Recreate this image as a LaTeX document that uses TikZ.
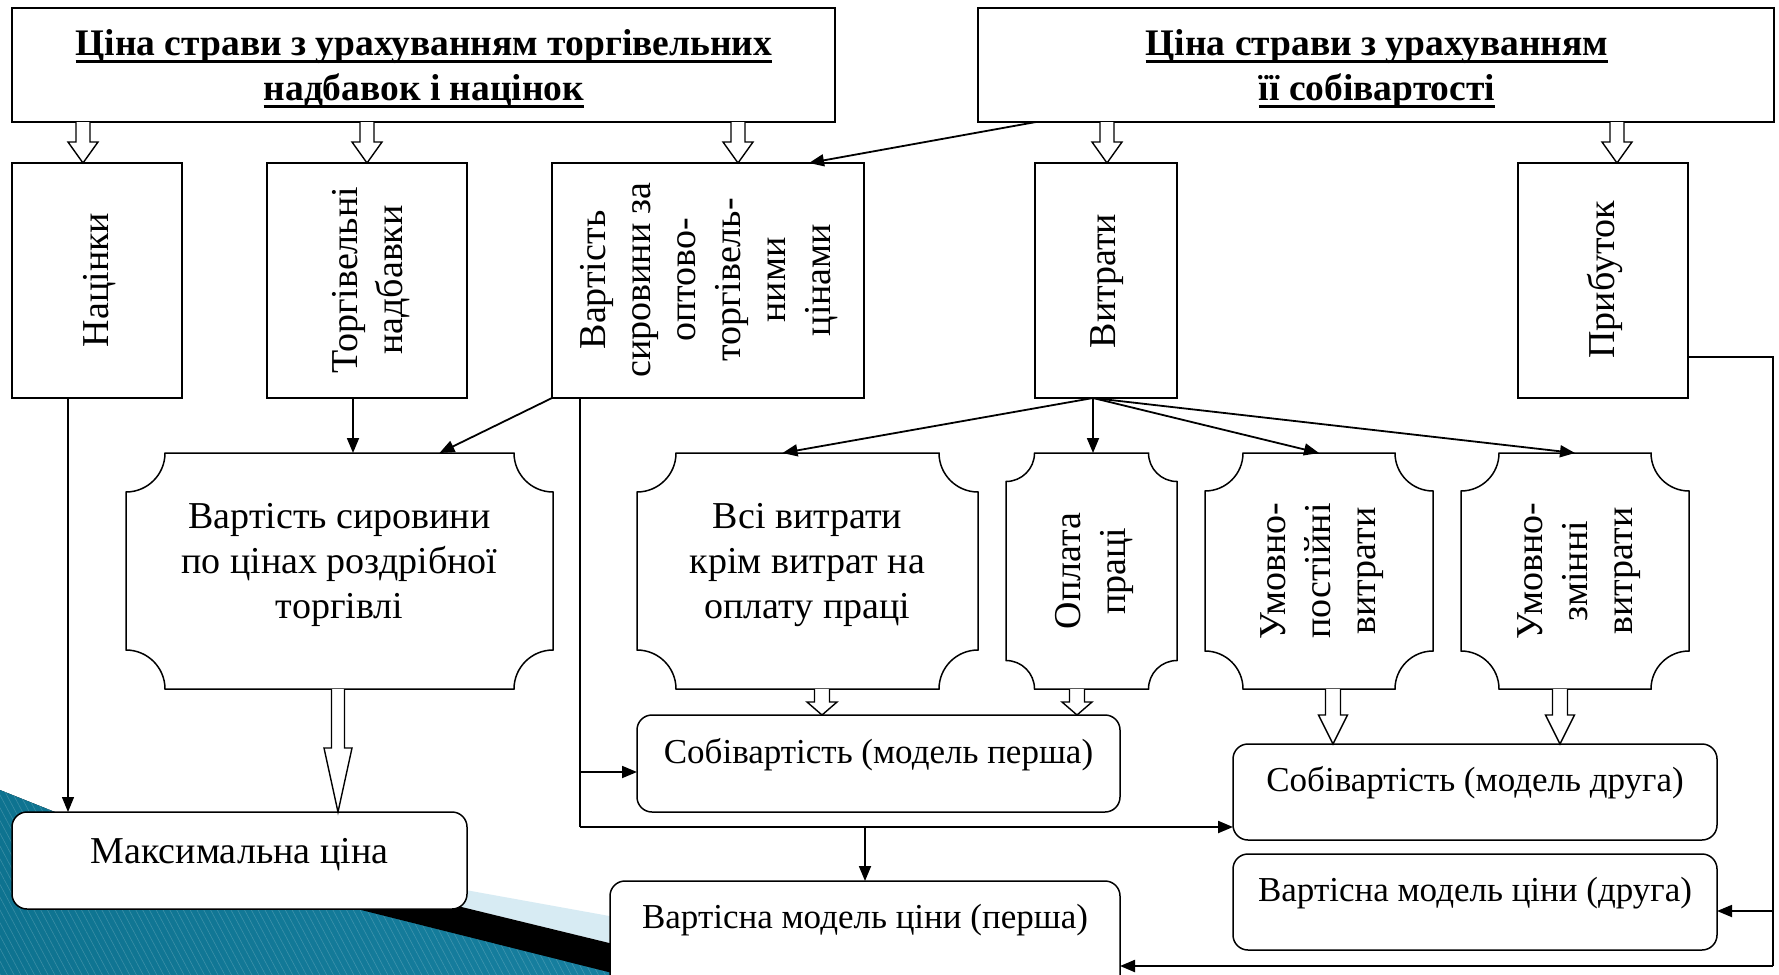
\documentclass[tikz,border=0pt]{standalone}
\usepackage{fontspec}
\setmainfont{Liberation Serif}
\usetikzlibrary{arrows.meta,patterns.meta}
\newcommand\ulin[1]{\setbox0\hbox{#1}\rlap{\vrule width\wd0 height -4.5pt depth 7.3pt}\box0}
\definecolor{tealdark}{HTML}{0E7390}
\definecolor{teallight}{HTML}{5CC1E1}
\definecolor{tealmid}{HTML}{1C86A8}
\definecolor{bandblue}{HTML}{D7EBF3}
\newcommand\bx[6]{\node[#6, minimum width={(#4-#2)*1pt}, minimum height={(#5-#3)*1pt}, anchor=north west] (#1) at (#2,#3) {};}
\newcommand\plaque[6]{%
 \pgfmathsetmacro\plk{0.552*#6}%
 \draw[pbox] ({#2+#6},#3) -- ({#4-#6},#3) .. controls ({#4-#6},{#3+\plk}) and ({#4-\plk},{#3+#6}) .. (#4,{#3+#6})
   -- (#4,{#5-#6}) .. controls ({#4-\plk},{#5-#6}) and ({#4-#6},{#5-\plk}) .. ({#4-#6},#5)
   -- ({#2+#6},#5) .. controls ({#2+#6},{#5-\plk}) and ({#2+\plk},{#5-#6}) .. (#2,{#5-#6})
   -- (#2,{#3+#6}) .. controls ({#2+\plk},{#3+#6}) and ({#2+#6},{#3+\plk}) .. ({#2+#6},#3) -- cycle;
 \node[minimum width={(#4-#2)*1pt}, minimum height={(#5-#3)*1pt}, anchor=north west] (#1) at (#2,#3) {};}
\newcommand\harrow[6]{\path[holl] ({#1-#5},#2) -- ({#1-#5},#3) -- ({#1-#6},#3) -- (#1,#4) -- ({#1+#6},#3) -- ({#1+#5},#3) -- ({#1+#5},#2);}
\begin{document}
\begin{tikzpicture}[x=1pt,y=-1pt,
  every node/.style={inner sep=0pt, outer sep=0pt},
  box/.style={draw, line width=1.5pt, fill=white},
  rbox/.style={box, rounded corners=15pt},
  pbox/.style={draw, line width=1.5pt, fill=white},
  holl/.style={draw, fill=white, line width=1.4pt, line join=miter},
  txt/.style={font=\fontsize{38}{45}\selectfont, align=center},
  stxt/.style={font=\fontsize{35}{42}\selectfont, align=center},
  vtxt/.style={txt, rotate=90},
  ttl/.style={font=\fontsize{37.5}{45}\selectfont\bfseries, align=center},
  conn/.style={line width=1.8pt, -{Triangle[length=15pt,width=12pt]}},
  thinl/.style={line width=1.2pt}]
\useasboundingbox (0,0) rectangle (1779,974);
\clip (0,0) rectangle (1779,974);
\fill[white] (0,0) rectangle (1779,974);
% background decoration
\fill[left color=tealdark, middle color=teallight, right color=tealmid] (0,790) -- (100,830) -- (940,1060) -- (0,1060) -- cycle;
\fill[pattern={Lines[angle=-62,distance=6pt,line width=0.6pt]}, pattern color=white, opacity=0.18] (0,790) -- (100,830) -- (940,1060) -- (0,1060) -- cycle;
\fill[bandblue] (150,833) -- (720,936) -- (720,970) -- (150,831) -- cycle;
\fill[black] (150,831) -- (720,970) -- (720,1000) -- (150,857) -- cycle;
% top boxes
\bx{B1}{12}{8}{835}{122}{box}
\bx{B2}{978}{8}{1774}{122}{box}
\node[ttl] (B1t) at (424,69) {\ulin{Ціна страви з урахуванням торгівельних}\\\ulin{надбавок і націнок}};
\node[ttl] (B2t) at (1377,69) {\ulin{Ціна страви з урахуванням}\\\ulin{її собівартості}};
% row 1
\bx{N}{12}{163}{182}{398}{box}
\bx{T}{267}{163}{467}{398}{box}
\bx{V}{552}{163}{864}{398}{box}
\bx{W}{1035}{163}{1177}{398}{box}
\bx{Pr}{1518}{163}{1688}{398}{box}
\node[vtxt] (Nt) at (100,280) {Націнки};
\node[vtxt] (Tt) at (371,280) {Торгівельні\\надбавки};
\node[vtxt] (Vt) at (709,280) {Вартість\\сировини за\\оптово-\\торгівель-\\ними\\цінами};
\node[vtxt] (Wt) at (1107,281) {Витрати};
\node[vtxt] (Prt) at (1605,280) {Прибуток};
% plaques
\plaque{P1}{126}{453}{553}{689}{39}
\plaque{P2}{637}{453}{978}{689}{39}
\plaque{P3}{1006}{453}{1177}{689}{28.5}
\plaque{P4}{1205}{453}{1433}{689}{38}
\plaque{P5}{1461}{453}{1689}{689}{38}
\node[txt] (P1t) at (339.5,565) {Вартість сировини\\по цінах роздрібної\\торгівлі};
\node[txt] (P2t) at (807.5,565) {Всі витрати\\крім витрат на\\оплату праці};
\node[vtxt] (P3t) at (1094,571) {Оплата\\праці};
\node[vtxt] (P4t) at (1322,571) {Умовно-\\постійні\\витрати};
\node[vtxt] (P5t) at (1579,571) {Умовно-\\змінні\\витрати};
% rounded boxes
\bx{M}{12}{812}{467}{909}{rbox}
\bx{S1}{637}{715}{1120}{812}{rbox}
\bx{S2}{1233}{744}{1717}{840}{rbox}
\bx{VM2}{1233}{854}{1717}{950}{rbox}
\bx{VM1}{610}{881}{1120}{1000}{rbox}
\node[txt] (Mt) at (239.5,855) {Максимальна ціна};
\node[stxt] (S1t) at (878.5,755) {Собівартість (модель перша)};
\node[stxt] (S2t) at (1475,783) {Собівартість (модель друга)};
\node[stxt] (VM2t) at (1475,893) {Вартісна модель ціни (друга)};
\node[stxt] (VM1t) at (865,920) {Вартісна модель ціни (перша)};
% hollow block arrows
\harrow{83}{122}{142}{163}{7}{15}
\harrow{367}{122}{142}{163}{7}{15}
\harrow{738}{122}{142}{163}{7}{15}
\harrow{1107}{122}{142}{163}{7}{15}
\harrow{1617}{122}{142}{163}{7}{15}
\harrow{338}{689}{748}{812}{6.5}{14}
\harrow{822}{689}{702}{715}{7.5}{15}
\harrow{1077}{689}{702}{715}{7.5}{15}
\harrow{1333}{689}{715}{744}{7.5}{14.5}
\harrow{1560}{689}{715}{744}{7.5}{14.5}
% connectors
\coordinate (fan) at (1093,398);
\coordinate (vj) at (580,827);
\coordinate (vb) at (580,772);
\coordinate (pr1) at (1773,357);
\coordinate (pj) at (1773,966);
\coordinate (pb) at (1773,911);
\draw[conn] ([xshift=58pt]B2.south west) -- ([xshift=101pt]V.north);
\draw[conn, thinl] ([xshift=-29pt]N.south) -- ([xshift=-29pt]N.south |- M.north);
\draw[conn] ([xshift=-14pt]T.south) -- ([xshift=-14pt]T.south |- P1.north);
\draw[conn] (V.south west) -- ([xshift=100pt]P1.north);
\draw[conn] (fan) -- ([xshift=-25pt]P2.north);
\draw[conn] (fan) -- (fan |- P3.north);
\draw[conn] (fan) -- (P4.north);
\draw[conn] (fan) -- (P5.north);
\draw[thinl] (V.south -| vj) -- (vb);
\draw[conn] (vb) -- (vb -| S1.west);
\draw[thinl] (vb) -- (vj);
\draw[conn, line width=2.2pt] (vj) -- (vj -| S2.west);
\draw[conn] (vj -| VM1.north) -- (VM1.north);
\draw[thinl] (Pr.east |- pr1) -- (pr1) -- (pb);
\draw[conn] (pb) -- (pb -| VM2.east);
\draw[line width=1.6pt] (pb) -- (pj);
\draw[conn, line width=2.2pt] (pj) -- (pj -| VM1.east);
\end{tikzpicture}
\end{document}
